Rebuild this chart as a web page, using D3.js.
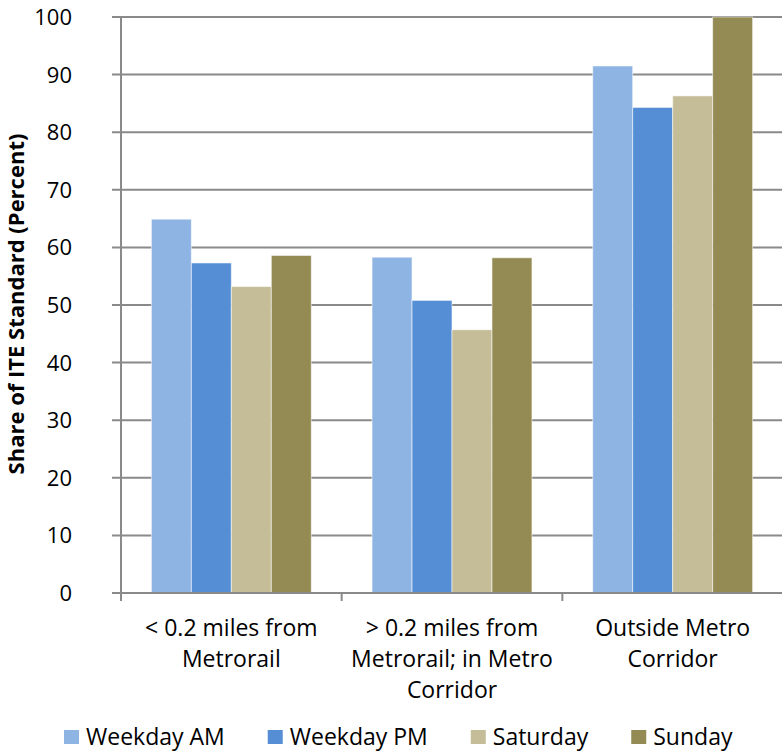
<!DOCTYPE html>
<html>
<head>
<meta charset="utf-8">
<script src="https://cdn.jsdelivr.net/npm/d3@7"></script>
<style>
  html, body { margin: 0; padding: 0; background: #fff; }
  svg { display: block; }
  text { font-family: "Open Sans", "DejaVu Sans", sans-serif; fill: #000; }
</style>
</head>
<body>
<svg id="chart" width="782" height="752"></svg>
<script>
// Trip generation as a share of the ITE standard, by location and time period
const categories = [
  ["< 0.2 miles from", "Metrorail"],
  ["> 0.2 miles from", "Metrorail; in Metro", "Corridor"],
  ["Outside Metro", "Corridor"]
];
const seriesNames = ["Weekday AM", "Weekday PM", "Saturday", "Sunday"];
const weekdayAM = [64.9, 58.3, 91.5];
const weekdayPM = [57.3, 50.8, 84.3];
const saturday  = [53.2, 45.7, 86.3];
const sunday    = [58.6, 58.2, 100];
const yTicks = [0, 10, 20, 30, 40, 50, 60, 70, 80, 90, 100];
const colors = ["#8EB4E3", "#558ED5", "#C4BD97", "#948A54"];

const seriesValues = [weekdayAM, weekdayPM, saturday, sunday];

const svg = d3.select("#chart");
const plot = { left: 121, right: 783, top: 17, bottom: 593 };

const catIdx = categories.map((_, i) => i);
const x = d3.scaleBand().domain(catIdx).range([plot.left, plot.right]).padding(0);
const xs = d3.scaleBand().domain(d3.range(seriesNames.length))
  .range([0, x.bandwidth()]).paddingInner(0).paddingOuter(0.76);
const y = d3.scaleLinear().domain([0, 100]).range([plot.bottom, plot.top]);

const gridColor = "#8a8a8a";

// horizontal gridlines (with short outward ticks)
svg.append("g").selectAll("line").data(yTicks.filter(d => d > 0)).join("line")
  .attr("x1", plot.left - 9).attr("x2", plot.right)
  .attr("y1", d => y(d)).attr("y2", d => y(d))
  .attr("stroke", gridColor).attr("stroke-width", 2);

// y tick labels
svg.append("g").selectAll("text").data(yTicks).join("text")
  .attr("x", 72).attr("y", d => y(d)).attr("dy", "0.36em")
  .attr("text-anchor", "end").attr("font-size", 22)
  .text(d => d);

// bars
const groups = svg.append("g").selectAll("g").data(catIdx).join("g")
  .attr("transform", i => `translate(${x(i)},0)`);
groups.selectAll("rect")
  .data(i => seriesValues.map((vals, s) => ({ s, v: vals[i] })))
  .join("rect")
  .attr("x", d => xs(d.s)).attr("width", xs.bandwidth())
  .attr("y", d => y(d.v)).attr("height", d => y(0) - y(d.v))
  .attr("fill", d => colors[d.s])
  .attr("stroke", "#ffffff").attr("stroke-opacity", 0.55).attr("stroke-width", 1);

// y axis line
svg.append("line")
  .attr("x1", plot.left).attr("x2", plot.left)
  .attr("y1", plot.top - 1).attr("y2", plot.bottom + 8)
  .attr("stroke", gridColor).attr("stroke-width", 2);

// x axis line and category ticks
svg.append("line")
  .attr("x1", plot.left - 9).attr("x2", plot.right)
  .attr("y1", plot.bottom).attr("y2", plot.bottom)
  .attr("stroke", gridColor).attr("stroke-width", 2);
svg.append("g").selectAll("line").data(catIdx.slice(1)).join("line")
  .attr("x1", i => x(i)).attr("x2", i => x(i))
  .attr("y1", plot.bottom).attr("y2", plot.bottom + 8)
  .attr("stroke", gridColor).attr("stroke-width", 2);

// category labels
const catLabels = svg.append("g").selectAll("text").data(catIdx).join("text")
  .attr("text-anchor", "middle").attr("font-size", 23);
catLabels.selectAll("tspan").data(i => categories[i].map(t => ({ i, t })))
  .join("tspan")
  .attr("x", d => x(d.i) + x.bandwidth() / 2)
  .attr("y", (d, k) => 636 + k * 31)
  .text(d => d.t);

// y axis title
svg.append("text")
  .attr("transform", "translate(24,304) rotate(-90)")
  .attr("text-anchor", "middle").attr("font-size", 22).attr("font-weight", "bold")
  .text("Share of ITE Standard (Percent)");

// legend
const legend = svg.append("g");
let cx = 64;
seriesNames.forEach((name, s) => {
  const g = legend.append("g");
  g.append("rect").attr("x", cx).attr("y", 730).attr("width", 15).attr("height", 14)
    .attr("fill", colors[s]);
  const t = g.append("text").attr("x", cx + 22).attr("y", 745)
    .attr("font-size", 23).text(name);
  cx += 22 + t.node().getComputedTextLength() + 43;
});
</script>
</body>
</html>
